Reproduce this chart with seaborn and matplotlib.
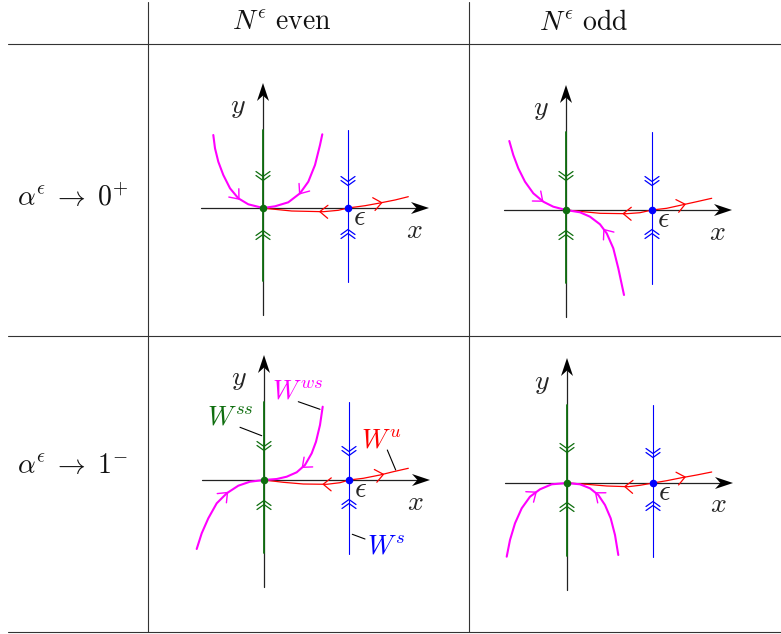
import numpy as np
import pandas as pd
import matplotlib.pyplot as plt
import seaborn as sns

# ---- table layout, in pixels of the 781x634 canvas ----
hlines_y = [44, 336, 632]
vlines_x = [148, 469]
col_titles = [r'$N^{\epsilon}\ \mathrm{even}$', r'$N^{\epsilon}\ \mathrm{odd}$']
col_title_x = [282, 584]
row_titles = [r'$\alpha^{\epsilon}\;\rightarrow\;0^{+}$', r'$\alpha^{\epsilon}\;\rightarrow\;1^{-}$']
row_title_y = [198, 466]

# ---- the four phase portraits: equilibrium 0 and equilibrium epsilon ----
origin_x = [263, 566, 264, 567]
origin_y = [208, 210, 480, 483]
eps_x = [348, 652, 349, 653]

# double chevrons (y of each pair) on W^ss (green) and W^s (blue)
green_down_y = [178, 178, 448, 450]
green_up_y = [233, 233, 503, 505]
blue_down_y = [183, 183, 453, 455]
blue_up_y = [232, 232, 502, 504]

# weak stable manifold W^ws (magenta): left branch ends at 0, right branch starts at 0
ws_left_x = [[213.3, 215.0, 218.3, 223.3, 230.0, 238.3, 248.3, 263.0],
             [509.3, 513.3, 518.3, 525.0, 533.3, 543.3, 553.3, 566.0],
             [196.7, 201.7, 208.3, 216.7, 226.7, 238.3, 250.0, 264.0],
             [506.7, 510.0, 515.0, 521.7, 530.0, 540.0, 551.7, 567.0]]
ws_left_y = [[135.0, 148.3, 161.7, 175.0, 188.3, 198.3, 204.3, 208.0],
             [141.0, 155.0, 168.3, 181.7, 193.3, 201.7, 206.7, 210.0],
             [549.0, 533.3, 518.3, 503.3, 493.3, 485.7, 481.7, 480.0],
             [556.7, 540.0, 523.3, 508.3, 496.7, 489.3, 484.3, 483.0]]
ws_right_x = [[263.0, 275.0, 288.3, 300.0, 308.3, 315.0, 320.0, 322.3],
              [566.0, 580.0, 590.0, 600.0, 606.7, 613.3, 618.3, 624.0],
              [264.0, 276.7, 286.7, 296.7, 305.0, 311.7, 316.0, 320.0, 322.7],
              [567.0, 580.0, 590.0, 598.3, 605.0, 610.7, 615.0, 618.3]]
ws_right_y = [[208.0, 206.3, 202.3, 193.3, 181.7, 165.0, 145.0, 134.3],
              [210.0, 212.3, 216.7, 224.3, 233.3, 248.3, 268.3, 295.0],
              [480.0, 479.0, 476.7, 472.3, 465.0, 453.3, 441.7, 425.0, 406.7],
              [483.0, 484.3, 488.3, 495.0, 505.0, 518.3, 535.0, 555.0]]
ws_left_arrow_x = [236.7, 540.0, 225.0, 533.3]
ws_right_arrow_x = [301.7, 606.0, 305.0, 598.3]

# unstable manifold W^u (red): from 0 through epsilon
wu_x = [[263.0, 271.7, 291.7, 323.3, 338.3, 348.0, 365.0, 378.3, 395.0, 408.3],
        [566.0, 583.3, 600.0, 626.7, 640.0, 652.0, 666.7, 681.7, 696.7, 711.7],
        [264.0, 283.3, 303.3, 326.7, 340.0, 349.0, 363.3, 380.0, 393.3, 408.3],
        [567.0, 586.7, 606.7, 628.3, 640.0, 653.0, 666.7, 681.7, 696.7, 711.7]]
wu_y = [[208.0, 209.0, 211.0, 211.7, 210.3, 208.0, 205.7, 203.3, 200.0, 196.7],
        [210.0, 211.7, 213.3, 213.7, 212.7, 210.0, 208.3, 205.0, 201.7, 198.3],
        [480.0, 482.3, 484.0, 484.3, 482.7, 480.0, 478.3, 475.0, 471.7, 468.3],
        [483.0, 484.3, 486.0, 486.7, 485.3, 483.0, 480.7, 477.7, 475.0, 472.0]]
wu_back_arrow_x = [323.3, 626.7, 326.7, 628.3]
wu_out_arrow_x = [378.3, 681.7, 380.0, 681.7]

# manifold names in the lower-left panel
name_text = [r'$W^{ws}$', r'$W^{ss}$', r'$W^{u}$', r'$W^{s}$']
name_x = [298, 230, 381, 386]
name_y = [391, 417, 440, 546]
leader_x = [[298.3, 320.0], [240.0, 261.7], [387.3, 395.7], [352.3, 365.0]]
leader_y = [[401.7, 409.3], [427.3, 435.7], [450.0, 470.0], [534.3, 539.0]]

MAGENTA, RED, BLUE, GREEN = '#ff00ff', '#ff0000', '#0000ff', '#0f6e0f'

sns.set_theme(style='white')
plt.rcParams['mathtext.fontset'] = 'cm'
plt.rcParams['font.family'] = ['DejaVu Serif']

fig = plt.figure(figsize=(7.81, 6.34), dpi=100)
ax = fig.add_axes([0, 0, 1, 1])
ax.set_xlim(0, 781)
ax.set_ylim(634, 0)
ax.axis('off')


def stealth(ax, x0, y0, x1, y1, L=18, W=12):
    d = np.array([x1 - x0, y1 - y0], float)
    d /= np.hypot(*d)
    n = np.array([-d[1], d[0]])
    tip = np.array([x1, y1], float)
    notch = tip - 0.7 * L * d
    pts = np.array([tip, tip - L * d + n * W / 2, notch, tip - L * d - n * W / 2])
    ax.plot([x0, notch[0]], [y0, notch[1]], color='#222222', lw=0.9, zorder=2)
    ax.fill(pts[:, 0], pts[:, 1], color='black', lw=0, zorder=2)


def open_head(ax, px, py, dx, dy, color, lw, size=8.0, spread=6.5):
    d = np.array([dx, dy], float)
    d /= np.hypot(*d)
    n = np.array([-d[1], d[0]])
    tip = np.array([px, py]) + 3.5 * d
    b1 = tip - size * d + spread * n
    b2 = tip - size * d - spread * n
    ax.plot([b1[0], tip[0], b2[0]], [b1[1], tip[1], b2[1]], color=color, lw=lw, zorder=5)


def arrow_on(ax, xs, ys, xpos, sense, color, lw):
    for i in range(len(xs) - 1):
        lo, hi = sorted((xs[i], xs[i + 1]))
        if lo <= xpos <= hi and hi > lo:
            t = (xpos - xs[i]) / (xs[i + 1] - xs[i])
            py = ys[i] + t * (ys[i + 1] - ys[i])
            dx, dy = xs[i + 1] - xs[i], ys[i + 1] - ys[i]
            open_head(ax, xpos, py, sense * dx, sense * dy, color, lw)
            return


def chevrons(ax, x, yc, down, color, lw=0.9):
    s = 1 if down else -1
    for tip in (yc - 1.5 * s, yc + 2.5 * s):
        ax.plot([x - 7, x, x + 7], [tip - 5 * s, tip, tip - 5 * s],
                color=color, lw=lw, zorder=4)


# table rules
for y in hlines_y:
    ax.plot([8, 781], [y, y], color='#333333', lw=0.8)
for x in vlines_x:
    ax.plot([x, x], [2, 632], color='#333333', lw=0.8)
for t, x in zip(col_titles, col_title_x):
    ax.text(x, 22, t, fontsize=20, ha='center', va='center', color='#111111')
for t, y in zip(row_titles, row_title_y):
    ax.text(73, y, t, fontsize=20, ha='center', va='center', color='#111111')

for k in range(4):
    ox, oy, ex = origin_x[k], origin_y[k], eps_x[k]
    # coordinate axes
    stealth(ax, ox - 62, oy, ox + 166, oy)
    stealth(ax, ox, oy + 107, ox, oy - 125)
    ax.text(ox - 25, oy - 101, r'$y$', fontsize=20, ha='center', va='center')
    ax.text(ox + 151, oy + 22, r'$x$', fontsize=20, ha='center', va='center')
    ax.text(ex + 11, oy + 9, r'$\epsilon$', fontsize=21, ha='center', va='center')

    # strong stable (green) and stable (blue) manifolds
    ax.plot([ox, ox], [oy - 78, oy + 73], color=GREEN, lw=1.3, zorder=3)
    ax.plot([ex, ex], [oy - 78, oy + 74], color=BLUE, lw=0.8, zorder=3)
    chevrons(ax, ox, green_down_y[k], True, GREEN)
    chevrons(ax, ox, green_up_y[k], False, GREEN)
    chevrons(ax, ex, blue_down_y[k], True, BLUE)
    chevrons(ax, ex, blue_up_y[k], False, BLUE)

    # unstable manifold
    df_u = pd.DataFrame({'x': wu_x[k], 'y': wu_y[k]})
    sns.lineplot(data=df_u, x='x', y='y', sort=False, estimator=None, color=RED,
                 lw=0.9, ax=ax, zorder=4)
    arrow_on(ax, wu_x[k], wu_y[k], wu_back_arrow_x[k], -1, RED, 0.9)
    arrow_on(ax, wu_x[k], wu_y[k], wu_out_arrow_x[k], 1, RED, 0.9)

    # weak stable manifold
    for xs, ys, ax_x, sense in ((ws_left_x[k], ws_left_y[k], ws_left_arrow_x[k], 1),
                                (ws_right_x[k], ws_right_y[k], ws_right_arrow_x[k], -1)):
        df_w = pd.DataFrame({'x': xs, 'y': ys})
        sns.lineplot(data=df_w, x='x', y='y', sort=False, estimator=None, color=MAGENTA,
                     lw=1.5, ax=ax, zorder=4)
        arrow_on(ax, xs, ys, ax_x, sense, MAGENTA, 1.0)

    # equilibria
    ax.scatter([ox], [oy], s=30, color=GREEN, zorder=6, linewidths=0)
    ax.scatter([ex], [oy], s=30, color=BLUE, zorder=6, linewidths=0)

# names of the manifolds with leader lines
for t, x, y, c in zip(name_text, name_x, name_y, [MAGENTA, GREEN, RED, BLUE]):
    ax.text(x, y, t, fontsize=19, ha='center', va='center', color=c)
for lx, ly in zip(leader_x, leader_y):
    ax.plot(lx, ly, color='black', lw=0.8)

ax.set_xlim(0, 781)
ax.set_ylim(634, 0)
ax.set_xlabel('')
ax.set_ylabel('')
fig.savefig('out.png', dpi=100)
